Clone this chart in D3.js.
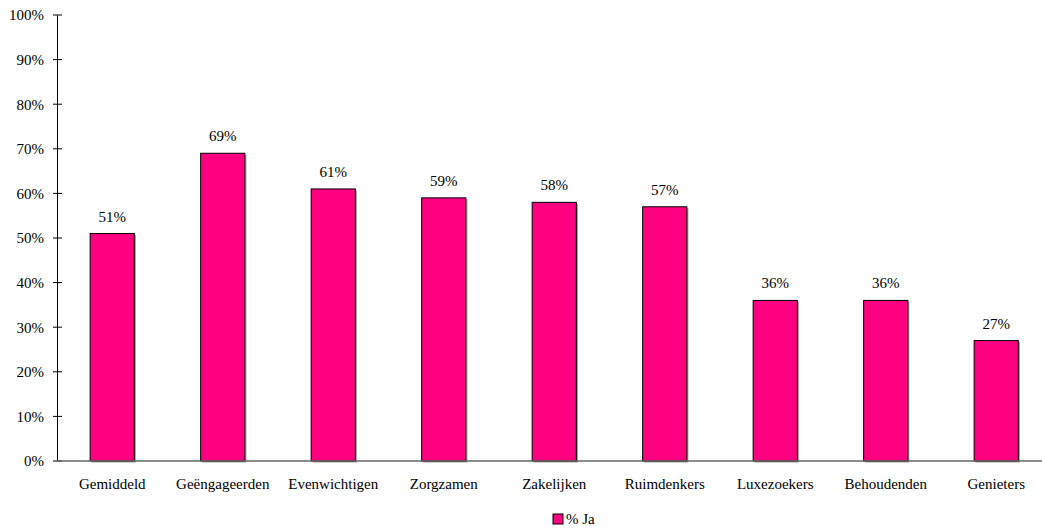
<!DOCTYPE html>
<html>
<head>
<meta charset="utf-8">
<script src="https://cdn.jsdelivr.net/npm/d3@7"></script>
<style>
  body { margin: 0; background: #fff; }
  svg text { font-family: "Liberation Serif", "Times New Roman", serif; fill: #000; }
</style>
</head>
<body>
<div id="chart"></div>
<script>
// categories and values (% Ja)
var categories = ["Gemiddeld", "Geëngageerden", "Evenwichtigen", "Zorgzamen", "Zakelijken", "Ruimdenkers", "Luxezoekers", "Behoudenden", "Genieters"];
var values = [51, 69, 61, 59, 58, 57, 36, 36, 27];
var yTicks = [0, 10, 20, 30, 40, 50, 60, 70, 80, 90, 100];
var seriesName = "% Ja";

var svgWidth = 1042, svgHeight = 531;
var plotLeft = 57, plotTop = 15, plotBottom = 461;
var step = 110.5;
var fontSize = 15;

var svg = d3.select("#chart").append("svg")
  .attr("width", svgWidth)
  .attr("height", svgHeight);

var x = d3.scaleBand()
  .domain(categories)
  .range([plotLeft, plotLeft + step * categories.length])
  .paddingInner(0.6)
  .paddingOuter(0.3);

var y = d3.scaleLinear().domain([0, 100]).range([plotBottom, plotTop]);

// y axis
var yAxis = svg.append("g")
  .attr("transform", "translate(" + plotLeft + ",0)")
  .call(d3.axisLeft(y).tickValues(yTicks).tickSize(0).tickPadding(13).tickFormat(function (d) { return d + "%"; }));
yAxis.select(".domain").attr("stroke", "#000");
yAxis.selectAll("text").attr("font-size", fontSize);

// cross ticks
svg.selectAll(".ytick").data(yTicks).enter().append("line")
  .attr("x1", plotLeft - 4).attr("x2", plotLeft + 5)
  .attr("y1", function (d) { return y(d); })
  .attr("y2", function (d) { return y(d); })
  .attr("stroke", "#000");

// bar shadows
svg.selectAll(".shadow").data(values).enter().append("rect")
  .attr("x", function (d, i) { return x(categories[i]) + 1.5; })
  .attr("y", function (d) { return y(d) + 1.5; })
  .attr("width", x.bandwidth())
  .attr("height", function (d) { return y(0) - y(d); })
  .attr("fill", "#999");

// bars
svg.selectAll(".bar").data(values).enter().append("rect")
  .attr("x", function (d, i) { return x(categories[i]); })
  .attr("y", function (d) { return y(d); })
  .attr("width", x.bandwidth())
  .attr("height", function (d) { return y(0) - y(d); })
  .attr("fill", "#ff0080")
  .attr("stroke", "#000")
  .attr("stroke-width", 1);

// value labels
svg.selectAll(".val").data(values).enter().append("text")
  .attr("x", function (d, i) { return x(categories[i]) + x.bandwidth() / 2; })
  .attr("y", function (d) { return y(d) - 12; })
  .attr("text-anchor", "middle")
  .attr("font-size", fontSize)
  .text(function (d) { return d + "%"; });

// x axis
var xAxis = svg.append("g")
  .attr("transform", "translate(0," + plotBottom + ")")
  .call(d3.axisBottom(x).tickSize(0).tickPadding(17));
xAxis.select(".domain").remove();
xAxis.selectAll("text").attr("font-size", fontSize);
svg.append("line")
  .attr("x1", plotLeft).attr("x2", svgWidth)
  .attr("y1", plotBottom).attr("y2", plotBottom)
  .attr("stroke", "#666").attr("stroke-width", 1.5);

// legend
var legend = svg.append("g").attr("transform", "translate(553,514)");
legend.append("rect").attr("width", 10).attr("height", 10)
  .attr("fill", "#ff0080").attr("stroke", "#000");
legend.append("text").attr("x", 13).attr("y", 10).attr("font-size", fontSize).text(seriesName);
</script>
</body>
</html>
